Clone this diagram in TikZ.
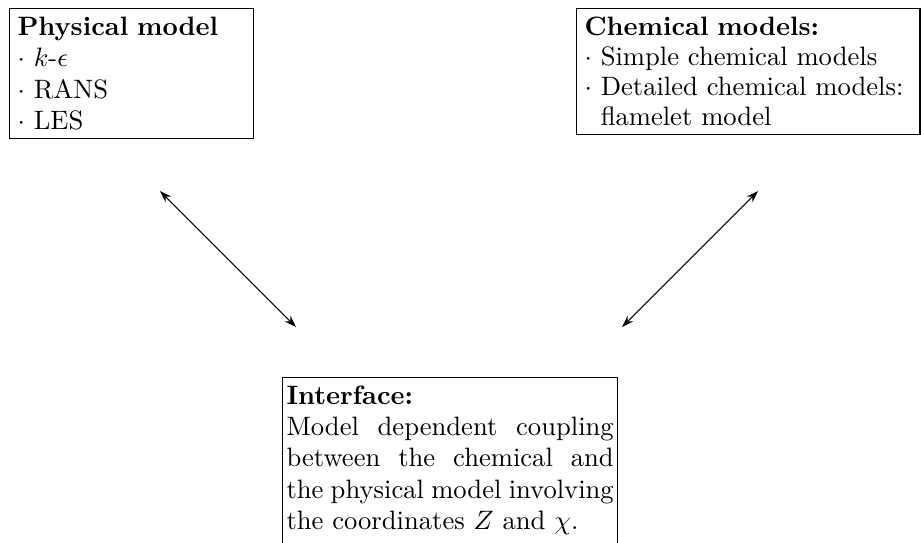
\documentclass[tikz,border=0pt]{standalone}
\usetikzlibrary{arrows.meta}
\begin{document}
\begin{tikzpicture}[x=0.3759pt,y=-0.3759pt,
  box/.style={draw, line width=0.4pt, anchor=north west, inner xsep=3pt, inner ysep=3.3pt},
  dbl/.style={{Stealth[length=4.5pt,width=3pt]}-{Stealth[length=4.5pt,width=3pt]}, line width=0.4pt}]
\useasboundingbox (0,0) rectangle (921,542);
\node[box, text width=85.7pt, align=left, font=\fontsize{10}{11.8}\selectfont] (phys) at (9,7.5)
  {\textbf{Physical model}\\ $\cdot$ $k$-$\epsilon$\\ $\cdot$ RANS\\ $\cdot$ LES};
\node[box, text width=123.1pt, align=left, font=\fontsize{10}{11.3}\selectfont] (chem) at (576,7.5)
  {\textbf{Chemical models:}\\ $\cdot$ Simple chemical models\\ $\cdot$ Detailed chemical models:\\ \hphantom{$\cdot$} flamelet model};
\node[box, text width=123pt, inner xsep=1.5pt, inner ysep=3pt, align=justify, font=\fontsize{10}{11.8}\selectfont] (inter) at (282,377)
  {\textbf{Interface:}\\ Model dependent coupling between the chemical and the physical model involving the coordinates $Z$ and $\chi$.\\ \rule[-20pt]{0pt}{20pt}};
\coordinate (a1) at (160,191);
\coordinate (a2) at (296,327);
\coordinate (b1) at (758,191);
\coordinate (b2) at (622,327);
\draw[dbl] (a1) -- (a2);
\draw[dbl] (b1) -- (b2);
\end{tikzpicture}
\end{document}
